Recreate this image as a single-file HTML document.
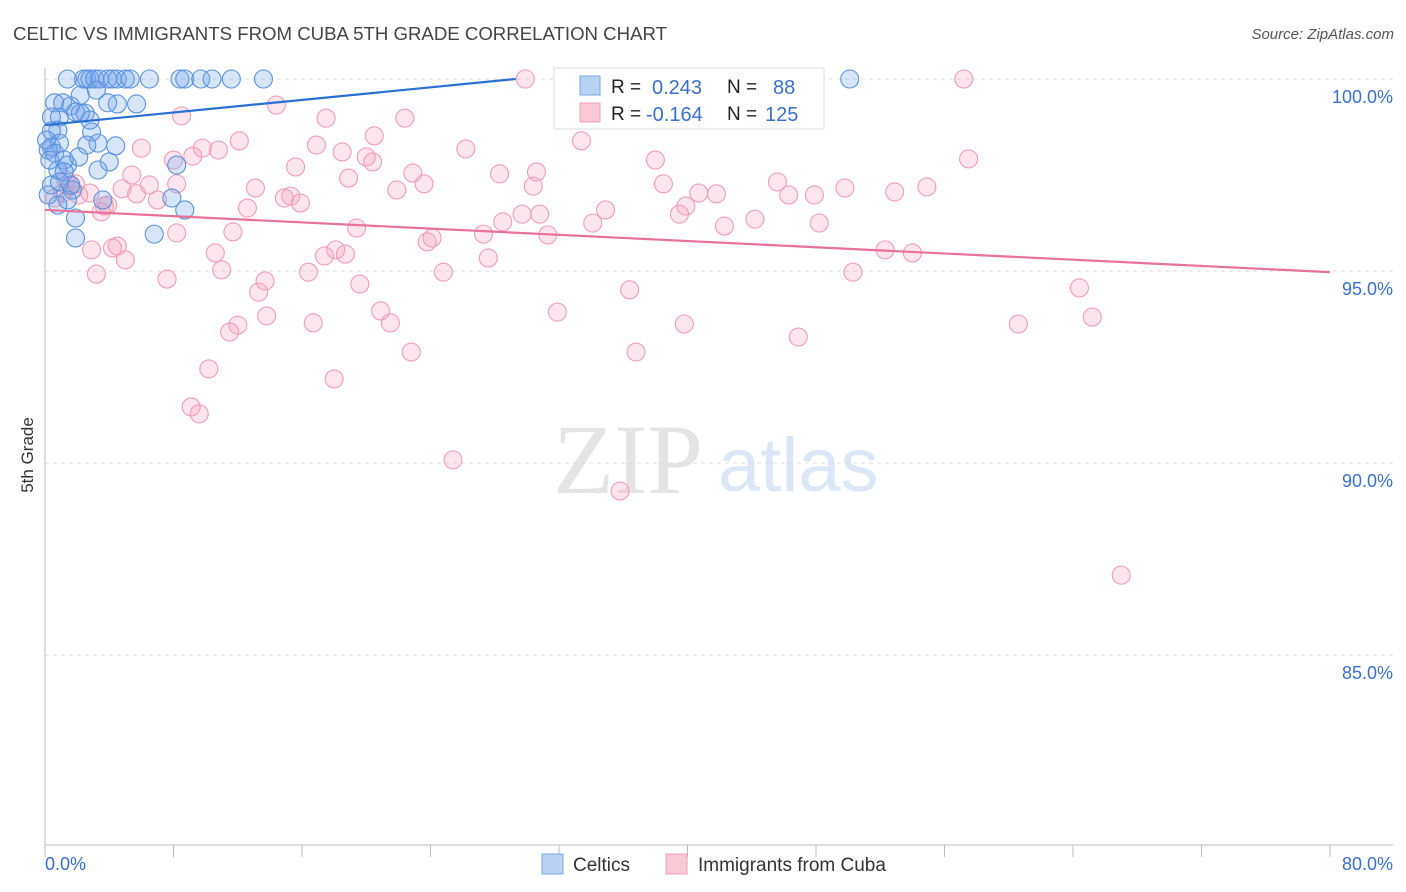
<!DOCTYPE html>
<html><head><meta charset="utf-8">
<style>
body{margin:0;background:#fff;font-family:"Liberation Sans",sans-serif;}
svg{display:block}
</style></head>
<body>
<svg id="chart" width="1406" height="892" xmlns="http://www.w3.org/2000/svg">
<text x="13" y="40" font-size="18.4" fill="#444" textLength="654" lengthAdjust="spacingAndGlyphs">CELTIC VS IMMIGRANTS FROM CUBA 5TH GRADE CORRELATION CHART</text>
<text x="1394" y="39" font-size="15" fill="#555" font-style="italic" text-anchor="end">Source: ZipAtlas.com</text>
<text transform="translate(33,455) rotate(-90)" font-size="17" fill="#333" text-anchor="middle">5th Grade</text>
<g>
<text x="553" y="493" font-family="Liberation Serif,serif" font-size="100" fill="#e4e4e4">ZIP</text>
<text x="718" y="491" font-size="76" fill="#dbe6f6">atlas</text>
</g>
<g id="grid"></g>
<g id="axes"></g>
<g id="pink"></g>
<g id="blue"></g>
<g id="lines"></g>
<g>
<rect x="554" y="68" width="270" height="61" fill="#fff" stroke="#ddd"/>
<rect x="580" y="76" width="20" height="19" fill="#b8d2f4" stroke="#7aa6e6"/>
<rect x="580" y="103" width="20" height="19" fill="#fbc8d6" stroke="#eea0b8"/>
<g font-size="19" fill="#222">
<text x="611" y="93">R =</text><text x="611" y="120">R =</text>
<text x="727" y="93">N =</text><text x="727" y="120">N =</text>
</g>
<g font-size="20" fill="#3a6fd0">
<text x="652" y="94">0.243</text>
<text x="646" y="121">-0.164</text>
<text x="773" y="94">88</text>
<text x="765" y="121">125</text>
</g>
</g>
<g>
<rect x="542" y="854" width="21" height="20" fill="#b8d2f4" stroke="#7aa6e6"/>
<text x="573" y="871" font-size="19" fill="#333">Celtics</text>
<rect x="666" y="854" width="21" height="20" fill="#fbc8d6" stroke="#eea0b8"/>
<text x="698" y="871" font-size="19" fill="#333">Immigrants from Cuba</text>
</g>
</svg>
<script>
const blueX=[1.4,2.4,2.6,2.8,3.1,3.4,3.9,4.2,4.5,5.0,5.3,6.5,8.4,8.7,9.7,10.4,11.6,13.6,50.1,
0.6,1.1,1.6,2.2,3.2,4.5,5.7,0.4,0.9,1.9,2.5,2.8,0.8,0.4,2.9,3.3,2.6,4.4,0.4,0.9,0.2,0.6,1.2,1.4,2.1,4.0,3.3,8.2,0.8,1.2,0.4,1.6,1.7,1.4,0.8,3.6,7.9,8.7,1.9,6.8,1.9,0.2,0.9,0.3,0.1,2.2,3.9];
const blueY=[100,100,100,100,100,100,100,100,100,100,100,100,100,100,100,100,100,100,100,
99.38,99.38,99.30,99.58,99.71,99.35,99.35,99.01,99.01,99.14,99.11,98.93,98.67,98.65,98.62,98.33,98.28,98.26,98.23,98.33,98.15,98.07,97.89,97.76,97.97,97.84,97.63,97.76,97.63,97.58,97.24,97.24,97.11,96.85,96.72,96.85,96.90,96.59,96.38,95.96,95.86,96.98,97.32,97.89,98.41,99.11,99.38];
const pinkX=[29.9,57.2,14.4,8.5,17.5,22.4,20.5,12.1,33.4,6.0,9.8,10.8,16.9,18.5,26.2,20.0,20.4,38.0,57.5,8.0,9.2,15.6,22.9,5.4,6.5,8.2,18.9,30.6,28.3,23.6,30.4,38.5,45.6,13.1,15.3,14.9,15.9,21.9,4.8,5.7,1.6,2.8,2.1,3.9,7.0,40.7,41.8,46.3,47.9,49.8,52.9,54.9,12.6,19.4,3.5,34.9,39.9,39.5,29.7,30.8,34.1,42.3,44.2,48.2,28.5,27.3,31.3,11.7,8.2,24.1,23.8,2.9,4.5,4.2,10.6,18.1,18.7,17.4,27.6,52.3,54.0,5.0,11.0,3.2,7.6,16.4,24.8,50.3,13.7,19.6,13.3,36.4,64.4,13.8,12.0,11.5,16.7,20.9,21.5,31.9,39.8,60.6,65.2,46.9,22.8,36.8,10.2,18.0,9.1,9.6,25.4,35.8,67.0,0.6,1.1,1.9,1.3,3.7];
const pinkY=[100,100,99.32,99.04,98.98,98.98,98.52,98.39,98.39,98.20,98.20,98.15,98.28,98.10,98.18,97.97,97.84,97.89,97.92,97.89,97.99,97.71,97.55,97.50,97.24,97.27,97.42,97.58,97.53,97.27,97.21,97.27,97.32,97.16,96.95,96.90,96.77,97.11,97.14,97.01,97.21,97.03,96.98,96.72,96.85,97.03,97.01,96.98,96.98,97.16,97.06,97.19,96.64,96.12,96.54,96.59,96.69,96.48,96.48,96.48,96.25,96.17,96.35,96.25,96.28,95.96,95.94,96.02,95.99,95.86,95.76,95.55,95.65,95.60,95.47,95.55,95.44,95.39,95.34,95.55,95.47,95.29,95.03,94.92,94.79,94.97,94.97,94.97,94.74,94.66,94.45,94.51,94.56,93.83,93.59,93.41,93.65,93.96,93.65,93.93,93.62,93.62,93.80,93.28,92.89,92.89,92.45,92.19,91.46,91.28,90.08,89.27,87.08,96.90,97.03,97.27,97.37,96.69];
const yTicks=[100,95,90,85];
const yTickLabels=["100.0%","95.0%","90.0%","85.0%"];
const blueTrend=[[0,98.8],[29.3,100]];
const pinkTrend=[[0,96.59],[80,94.97]];
const NS="http://www.w3.org/2000/svg";
const X0=45,X1=1330,Y100=79,PX5=192;
function sx(v){return X0+(v/80)*(X1-X0);}
function sy(v){return Y100+(100-v)/5*PX5;}
function mk(tag,attrs,parent){const e=document.createElementNS(NS,tag);for(const k in attrs)e.setAttribute(k,attrs[k]);parent.appendChild(e);return e;}
const grid=document.getElementById('grid');
yTicks.forEach((t,i)=>{
  const l=mk('line',{x1:X0,x2:1393,y1:sy(t),y2:sy(t),stroke:'#ddd','stroke-dasharray':'4,4'},grid);
  
  
  const tx=mk('text',{x:1393,y:sy(t)+24,'font-size':18,fill:'#3a6fd0','text-anchor':'end'},grid);
  tx.textContent=yTickLabels[i];
  
  
});
const axes=document.getElementById('axes');
mk('line',{x1:X0,x2:X0,y1:68,y2:845,stroke:'#bbb'},axes);
mk('line',{x1:X0,x2:1393,y1:845,y2:845,stroke:'#bbb'},axes);
for(let i=0;i<=10;i++){
  const t=mk('line',{x1:sx(i*8),x2:sx(i*8),y1:845,y2:857,stroke:'#bbb'},axes);
  
  
}
const xl=mk('text',{x:45,y:870,'font-size':18,fill:'#3a6fd0'},axes);xl.textContent='0.0%';


const xr=mk('text',{x:1393,y:870,'font-size':18,fill:'#3a6fd0','text-anchor':'end'},axes);xr.textContent='80.0%';


const pg=document.getElementById('pink');
pinkX.forEach((x,i)=>{
  const c=mk('circle',{cx:sx(x),cy:sy(pinkY[i]),r:9,fill:'rgba(244,160,188,0.28)',stroke:'#ef9db8','stroke-width':1.1},pg);
  
  
});
const bg=document.getElementById('blue');
blueX.forEach((x,i)=>{
  const c=mk('circle',{cx:sx(x),cy:sy(blueY[i]),r:9,fill:'rgba(110,160,235,0.28)',stroke:'#5a92de','stroke-width':1.1},bg);
  
  
});
const lg=document.getElementById('lines');
const bl=mk('line',{x1:sx(blueTrend[0][0]),y1:sy(blueTrend[0][1]),x2:sx(blueTrend[1][0]),y2:sy(blueTrend[1][1]),stroke:'#2a6fd6','stroke-width':2.2},lg);


const pl=mk('line',{x1:sx(pinkTrend[0][0]),y1:sy(pinkTrend[0][1]),x2:sx(pinkTrend[1][0]),y2:sy(pinkTrend[1][1]),stroke:'#e8729a','stroke-width':2.2},lg);


</script>
</body></html>
